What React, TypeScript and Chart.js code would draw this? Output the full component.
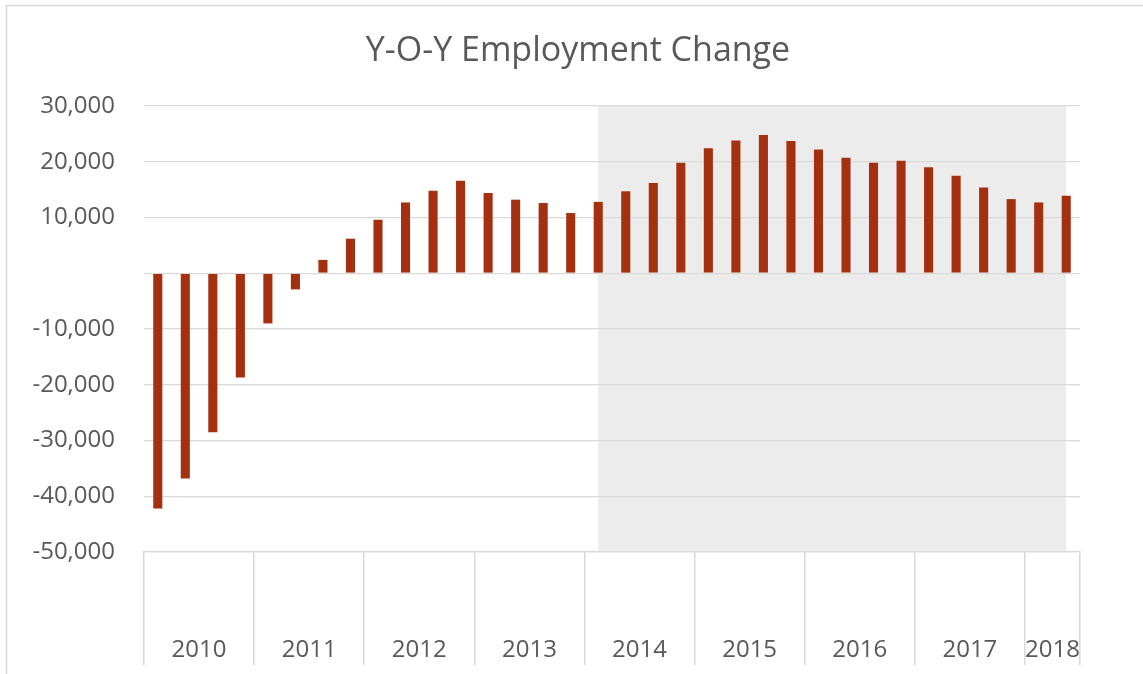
import React, { useEffect, useRef } from "react";
import { Chart, registerables } from "chart.js";

Chart.register(...registerables);

const chartTitle = "Y-O-Y Employment Change";

const categories = [
  "2010 Q1", "2010 Q2", "2010 Q3", "2010 Q4",
  "2011 Q1", "2011 Q2", "2011 Q3", "2011 Q4",
  "2012 Q1", "2012 Q2", "2012 Q3", "2012 Q4",
  "2013 Q1", "2013 Q2", "2013 Q3", "2013 Q4",
  "2014 Q1", "2014 Q2", "2014 Q3", "2014 Q4",
  "2015 Q1", "2015 Q2", "2015 Q3", "2015 Q4",
  "2016 Q1", "2016 Q2", "2016 Q3", "2016 Q4",
  "2017 Q1", "2017 Q2", "2017 Q3", "2017 Q4",
  "2018 Q1", "2018 Q2",
];

const employmentChange = [
  -42200, -36800, -28500, -18700,
  -9000, -2900, 2400, 6200,
  9600, 12700, 14800, 16600,
  14400, 13200, 12600, 10800,
  12800, 14700, 16200, 19800,
  22400, 23800, 24800, 23700,
  22200, 20700, 19800, 20200,
  19000, 17500, 15400, 13300,
  12700, 13900,
];

const yearLabels = ["2010", "2011", "2012", "2013", "2014", "2015", "2016", "2017", "2018"];
const quartersPerYear = [4, 4, 4, 4, 4, 4, 4, 4, 2];

const shadeStart = "2014 Q1";
const shadeEnd = "2018 Q2";

const yMin = -50000;
const yMax = 30000;
const yStep = 10000;

const TEXT = "#595959";
const GRID = "#d9d9d9";
const BAR = "#a5300f";
const SHADE = "#ececec";
const FONT = "'Open Sans', sans-serif";

const decorPlugin = {
  id: "decor",
  beforeDraw(chart: any) {
    const { ctx, chartArea, scales } = chart;
    const x = scales.x;
    const i0 = categories.indexOf(shadeStart);
    const i1 = categories.indexOf(shadeEnd);
    const x0 = x.getPixelForValue(i0);
    const x1 = x.getPixelForValue(i1);
    ctx.save();
    ctx.fillStyle = SHADE;
    ctx.fillRect(x0, chartArea.top, x1 - x0, chartArea.bottom - chartArea.top);
    ctx.restore();
  },
  afterDraw(chart: any) {
    const { ctx, scales } = chart;
    const x = scales.x;
    ctx.save();
    // title
    ctx.fillStyle = TEXT;
    ctx.font = `34px ${FONT}`;
    ctx.textAlign = "center";
    ctx.textBaseline = "alphabetic";
    ctx.fillText(chartTitle, 578, 61);
    // year labels
    ctx.font = `24px ${FONT}`;
    let start = 0;
    yearLabels.forEach((yr, k) => {
      const end = start + quartersPerYear[k] - 1;
      const cx = (x.getPixelForValue(start) + x.getPixelForValue(end)) / 2;
      ctx.fillText(yr, cx, 657);
      start += quartersPerYear[k];
    });
    // chart border
    ctx.strokeStyle = GRID;
    ctx.lineWidth = 1.5;
    ctx.strokeRect(6.5, 5.5, 1300, 800);
    ctx.restore();
  },
};

export default function App() {
  const canvasRef = useRef<HTMLCanvasElement | null>(null);

  useEffect(() => {
    document.body.style.margin = "0";
    const canvas = canvasRef.current;
    if (!canvas) return;
    const chart = new Chart(canvas, {
      type: "bar",
      data: {
        labels: categories,
        datasets: [
          {
            label: "Y-O-Y Employment Change",
            data: employmentChange,
            backgroundColor: BAR,
            barPercentage: 0.33,
            categoryPercentage: 1,
          },
        ],
      },
      options: {
        responsive: false,
        animation: false,
        devicePixelRatio: 1,
        layout: { padding: { top: 106, right: 63, left: 0, bottom: 0 } },
        plugins: {
          legend: { display: false },
          title: { display: false },
          tooltip: { enabled: false },
        },
        scales: {
          x: {
            type: "category",
            offset: true,
            grid: {
              offset: true,
              drawOnChartArea: false,
              drawTicks: true,
              tickLength: 113,
              lineWidth: 1.5,
              color: (ctx: any) => {
                if (ctx.index === undefined) return GRID;
                return ctx.index % 4 === 0 || ctx.index >= categories.length ? GRID : "rgba(0,0,0,0)";
              },
            },
            border: { display: true, color: GRID, width: 1.3 },
            ticks: { display: false, autoSkip: false },
            afterFit: (scale: any) => {
              scale.height = 122;
            },
          },
          y: {
            min: yMin,
            max: yMax,
            grid: {
              color: GRID,
              lineWidth: 1.3,
              drawTicks: false,
            },
            border: { display: false },
            ticks: {
              stepSize: yStep,
              padding: 29,
              color: TEXT,
              font: { family: FONT, size: 24 },
              callback: (v: any) => (Number(v) === 0 ? "" : Number(v).toLocaleString("en-US")),
            },
            afterFit: (scale: any) => {
              scale.width = 144;
            },
          },
        },
      },
      plugins: [decorPlugin],
    });
    return () => chart.destroy();
  }, []);

  return (
    <div style={{ width: 1143, height: 674, background: "#ffffff" }}>
      <canvas ref={canvasRef} width={1143} height={674} style={{ display: "block" }} />
    </div>
  );
}
